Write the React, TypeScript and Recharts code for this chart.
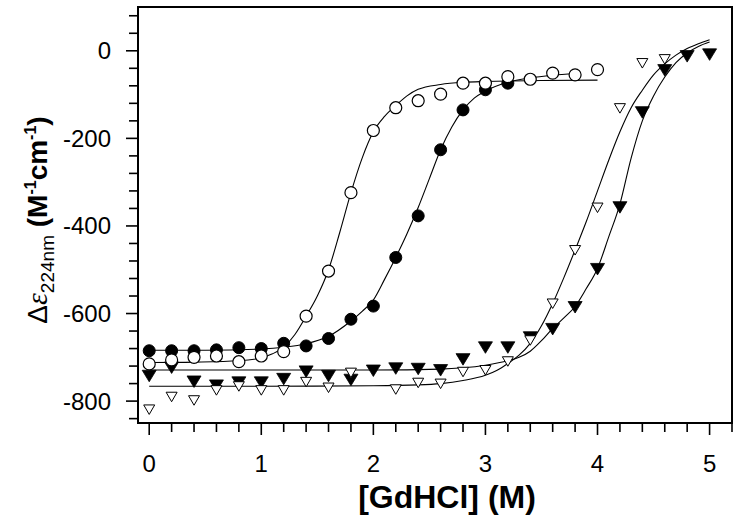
import React from "react";
import { ComposedChart, XAxis, YAxis, Scatter, Line, ReferenceArea } from "recharts";

// Measured points (GdHCl concentration in M, Δε in M^-1 cm^-1)
const openCircleX = [0, 0.2, 0.4, 0.6, 0.8, 1.0, 1.2, 1.4, 1.6, 1.8, 2.0, 2.2, 2.4, 2.6, 2.8, 3.0, 3.2, 3.4, 3.6, 3.8, 4.0];
const openCircleY = [-715, -706, -700, -697, -710, -697, -687, -606, -503, -324, -182, -130, -114, -99, -74, -74, -59, -65, -51, -55, -43];

const filledCircleX = [0, 0.2, 0.4, 0.6, 0.8, 1.0, 1.2, 1.4, 1.6, 1.8, 2.0, 2.2, 2.4, 2.6, 2.8, 3.0, 3.2];
const filledCircleY = [-685, -685, -685, -683, -678, -680, -668, -674, -657, -613, -583, -472, -377, -226, -135, -89, -74];

const openTriX = [0, 0.2, 0.4, 0.6, 0.8, 1.0, 1.2, 1.4, 1.6, 1.8, 2.2, 2.4, 2.6, 2.8, 3.0, 3.2, 3.4, 3.6, 3.8, 4.0, 4.2, 4.4, 4.6];
const openTriY = [-819, -790, -798, -775, -766, -775, -775, -756, -769, -735, -773, -758, -760, -733, -729, -709, -661, -577, -455, -358, -131, -28, -19];

const filledTriX = [0, 0.2, 0.4, 0.6, 0.8, 1.0, 1.2, 1.4, 1.6, 1.8, 2.0, 2.2, 2.4, 2.6, 2.8, 3.0, 3.2, 3.4, 3.6, 3.8, 4.0, 4.2, 4.4, 4.6, 4.8, 5.0];
const filledTriY = [-741, -722, -754, -763, -756, -756, -748, -731, -741, -750, -729, -724, -725, -728, -703, -676, -676, -653, -634, -584, -497, -356, -139, -43, -11, -7];

// Fitted curves
const fitOpenCircleX = [0, 0.4, 0.8, 1.0, 1.1, 1.2, 1.3, 1.4, 1.5, 1.6, 1.7, 1.8, 1.9, 2.0, 2.1, 2.2, 2.3, 2.4, 2.6, 2.8, 3.0, 3.5, 4.0];
const fitOpenCircleY = [-712, -711, -708, -701, -692, -677, -648, -606, -560, -500, -415, -324, -245, -185, -150, -125, -103, -88, -77, -72, -70, -68, -67];

const fitFilledCircleX = [0, 0.5, 1.0, 1.2, 1.4, 1.6, 1.8, 1.9, 2.0, 2.1, 2.2, 2.3, 2.4, 2.5, 2.6, 2.7, 2.8, 2.9, 3.0, 3.2, 3.4, 3.6, 3.8];
const fitFilledCircleY = [-684, -684, -681, -677, -669, -652, -617, -595, -569, -522, -472, -418, -358, -292, -226, -174, -135, -108, -92, -72, -62, -56, -52];

const fitOpenTriX = [0, 1, 2, 2.4, 2.6, 2.8, 3.0, 3.1, 3.2, 3.3, 3.4, 3.5, 3.6, 3.7, 3.8, 3.9, 4.0, 4.1, 4.2, 4.3, 4.4, 4.5, 4.6, 4.7, 4.8, 4.9, 5.0];
const fitOpenTriY = [-766, -766, -765, -763, -760, -753, -741, -730, -714, -695, -668, -628, -577, -518, -455, -390, -320, -250, -185, -130, -90, -55, -30, -10, 5, 16, 25];

const fitFilledTriX = [0, 1, 2, 2.6, 2.8, 3.0, 3.2, 3.3, 3.4, 3.5, 3.6, 3.7, 3.8, 3.9, 4.0, 4.1, 4.2, 4.3, 4.4, 4.5, 4.6, 4.7, 4.8, 4.9, 5.0];
const fitFilledTriY = [-729, -729, -729, -727, -724, -718, -708, -700, -686, -662, -634, -610, -584, -543, -497, -425, -350, -245, -160, -103, -60, -27, -5, 10, 20];

// Axis ticks
const xTicks = [0, 0.2, 0.4, 0.6, 0.8, 1, 1.2, 1.4, 1.6, 1.8, 2, 2.2, 2.4, 2.6, 2.8, 3, 3.2, 3.4, 3.6, 3.8, 4, 4.2, 4.4, 4.6, 4.8, 5, 5.2];
const xLabeled = [0, 1, 2, 3, 4, 5];
const yTicks = [-840, -800, -760, -720, -680, -640, -600, -560, -520, -480, -440, -400, -360, -320, -280, -240, -200, -160, -120, -80, -40, 0, 40, 80];
const yLabeled = [-800, -600, -400, -200, 0];

const zip = (xs: number[], ys: number[]) => xs.map((x, i) => ({ x, y: ys[i] }));

const FONT = "'Liberation Sans', Arial, Helvetica, sans-serif";

const XTick = (props: any) => {
  const { x, y, payload } = props;
  const v = payload.value;
  const major = xLabeled.some((t) => Math.abs(t - v) < 1e-6);
  return (
    <g>
      <line x1={x} y1={y} x2={x} y2={y + (major ? 12 : 9)} stroke="#000" strokeWidth={1.6} />
      {major && (
        <text x={x} y={y + 49} textAnchor="middle" fontFamily={FONT} fontSize={24} fill="#000">
          {String(Math.round(v))}
        </text>
      )}
    </g>
  );
};

const YTick = (props: any) => {
  const { x, y, payload } = props;
  const v = payload.value;
  const major = yLabeled.includes(v);
  return (
    <g>
      <line x1={x} y1={y} x2={x - (major ? 12 : 9)} y2={y} stroke="#000" strokeWidth={1.6} />
      {major && (
        <text x={x - 27} y={y + 8.5} textAnchor="end" fontFamily={FONT} fontSize={24} fill="#000">
          {String(v)}
        </text>
      )}
    </g>
  );
};

const OpenCircle = (p: any) => <circle cx={p.cx} cy={p.cy} r={6} fill="#fff" stroke="#000" strokeWidth={1.2} />;
const FilledCircle = (p: any) => <circle cx={p.cx} cy={p.cy} r={6} fill="#000" stroke="#000" strokeWidth={1} />;
const OpenTri = (p: any) => (
  <path d={`M${p.cx - 5.5},${p.cy - 4.5} L${p.cx + 5.5},${p.cy - 4.5} L${p.cx},${p.cy + 5} Z`} fill="#fff" stroke="#000" strokeWidth={1} />
);
const FilledTri = (p: any) => (
  <path d={`M${p.cx - 7},${p.cy - 5} L${p.cx + 7},${p.cy - 5} L${p.cx},${p.cy + 6.5} Z`} fill="#000" stroke="#000" strokeWidth={0.8} />
);

const XTitle = () => (
  <text x={447} y={508} textAnchor="middle" fontFamily={FONT} fontSize={32} fontWeight="bold" fill="#000">
    [GdHCl] (M)
  </text>
);

const YTitle = () => (
  <text transform="translate(47,220) rotate(-90)" textAnchor="middle" fontFamily={FONT} fontSize={28} fill="#000">
    <tspan>Δ</tspan>
    <tspan fontStyle="italic" fontFamily="'Liberation Serif', 'DejaVu Serif', serif" fontSize={30}>ε</tspan>
    <tspan fontSize={19} dy={7}>224nm</tspan>
    <tspan dy={-7} fontWeight="bold"> (M</tspan>
    <tspan fontSize={16} dy={-11} fontWeight="bold">-1</tspan>
    <tspan dy={11} fontWeight="bold">cm</tspan>
    <tspan fontSize={16} dy={-11} fontWeight="bold">-1</tspan>
    <tspan dy={11} fontWeight="bold">)</tspan>
  </text>
);

export default function App() {
  return (
    <div style={{ position: "absolute", left: 0, top: 0, width: 739, height: 521, background: "#fff" }}>
      <ComposedChart width={739} height={521} margin={{ top: 7, right: 7, bottom: 0, left: 0 }}>
        <XAxis
          type="number"
          dataKey="x"
          domain={[-0.1, 5.2]}
          ticks={xTicks}
          interval={0}
          allowDataOverflow
          height={98}
          tickLine={false}
          tickSize={0}
          tickMargin={0}
          tick={<XTick />}
          axisLine={{ stroke: "#000", strokeWidth: 2 }}
          label={{ content: () => <XTitle /> }}
        />
        <YAxis
          type="number"
          dataKey="y"
          domain={[-850, 100]}
          ticks={yTicks}
          interval={0}
          allowDataOverflow
          width={138}
          tickLine={false}
          tickSize={0}
          tickMargin={0}
          tick={<YTick />}
          axisLine={{ stroke: "#000", strokeWidth: 2 }}
          label={{ content: () => <YTitle /> }}
        />
        <ReferenceArea x1={-0.1} x2={5.2} y1={-850} y2={100} fill="none" fillOpacity={0} stroke="#000" strokeWidth={2} ifOverflow="visible" />
        <Scatter data={zip(filledTriX, filledTriY)} dataKey="y" shape={<FilledTri />} isAnimationActive={false} />
        <Scatter data={zip(openTriX, openTriY)} dataKey="y" shape={<OpenTri />} isAnimationActive={false} />
        <Scatter data={zip(filledCircleX, filledCircleY)} dataKey="y" shape={<FilledCircle />} isAnimationActive={false} />
        <Scatter data={zip(openCircleX, openCircleY)} dataKey="y" shape={<OpenCircle />} isAnimationActive={false} />
        <Line data={zip(fitOpenCircleX, fitOpenCircleY)} dataKey="y" type="monotone" stroke="#000" strokeWidth={1.1} dot={false} activeDot={false} isAnimationActive={false} />
        <Line data={zip(fitFilledCircleX, fitFilledCircleY)} dataKey="y" type="monotone" stroke="#000" strokeWidth={1.1} dot={false} activeDot={false} isAnimationActive={false} />
        <Line data={zip(fitOpenTriX, fitOpenTriY)} dataKey="y" type="monotone" stroke="#000" strokeWidth={1.1} dot={false} activeDot={false} isAnimationActive={false} />
        <Line data={zip(fitFilledTriX, fitFilledTriY)} dataKey="y" type="monotone" stroke="#000" strokeWidth={1.1} dot={false} activeDot={false} isAnimationActive={false} />
      </ComposedChart>
    </div>
  );
}
